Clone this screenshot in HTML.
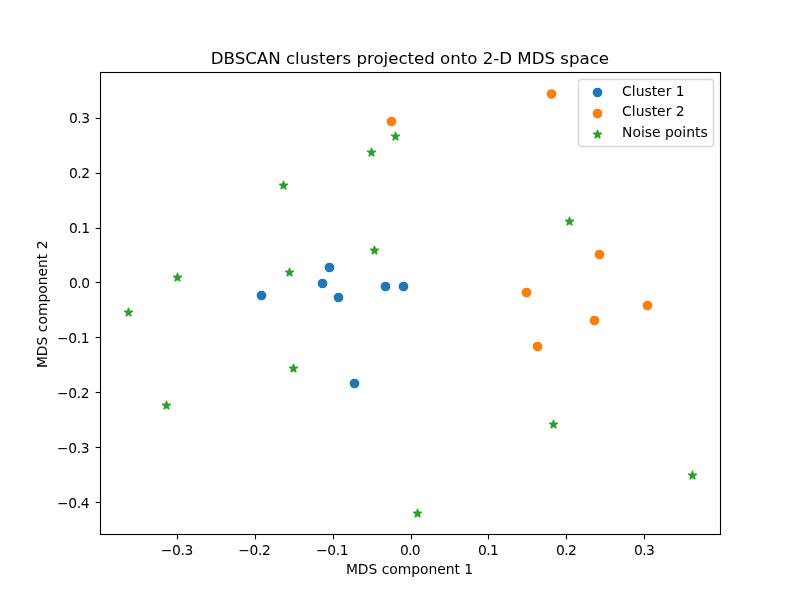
<!DOCTYPE html>
<html lang="en"><head><meta charset="utf-8"><title>DBSCAN clusters projected onto 2-D MDS space</title>
<style>html,body{margin:0;padding:0;background:#fff;overflow:hidden}body{width:800px;height:600px}</style></head>
<body>
<svg width="800" height="600" viewBox="0 0 800 600" style="display:block">
<rect x="0" y="0" width="800" height="600" fill="#ffffff"/>
<g fill="#1f77b4" stroke="#1f77b4" stroke-width="1.389">
<circle cx="261.50" cy="295.50" r="4.167"/>
<circle cx="329.50" cy="267.50" r="4.167"/>
<circle cx="322.50" cy="283.50" r="4.167"/>
<circle cx="338.50" cy="297.50" r="4.167"/>
<circle cx="385.50" cy="286.50" r="4.167"/>
<circle cx="403.50" cy="286.50" r="4.167"/>
<circle cx="354.50" cy="383.50" r="4.167"/>
</g>
<g fill="#ff7f0e" stroke="#ff7f0e" stroke-width="1.389">
<circle cx="391.50" cy="121.50" r="4.167"/>
<circle cx="551.50" cy="94.00" r="4.167"/>
<circle cx="599.50" cy="254.50" r="4.167"/>
<circle cx="526.50" cy="292.50" r="4.167"/>
<circle cx="647.50" cy="305.50" r="4.167"/>
<circle cx="594.50" cy="320.50" r="4.167"/>
<circle cx="537.50" cy="346.50" r="4.167"/>
</g>
<g fill="#2ca02c" stroke="#2ca02c" stroke-width="1.389" stroke-linejoin="round">
<path transform="translate(395.50 136.50)" d="M0.000 -4.167 L-0.935 -1.288 L-3.963 -1.288 L-1.514 0.492 L-2.449 3.371 L0.000 1.592 L2.449 3.371 L1.514 0.492 L3.963 -1.288 L0.935 -1.288Z"/>
<path transform="translate(371.50 152.50)" d="M0.000 -4.167 L-0.935 -1.288 L-3.963 -1.288 L-1.514 0.492 L-2.449 3.371 L0.000 1.592 L2.449 3.371 L1.514 0.492 L3.963 -1.288 L0.935 -1.288Z"/>
<path transform="translate(283.50 185.50)" d="M0.000 -4.167 L-0.935 -1.288 L-3.963 -1.288 L-1.514 0.492 L-2.449 3.371 L0.000 1.592 L2.449 3.371 L1.514 0.492 L3.963 -1.288 L0.935 -1.288Z"/>
<path transform="translate(374.50 250.50)" d="M0.000 -4.167 L-0.935 -1.288 L-3.963 -1.288 L-1.514 0.492 L-2.449 3.371 L0.000 1.592 L2.449 3.371 L1.514 0.492 L3.963 -1.288 L0.935 -1.288Z"/>
<path transform="translate(289.50 272.50)" d="M0.000 -4.167 L-0.935 -1.288 L-3.963 -1.288 L-1.514 0.492 L-2.449 3.371 L0.000 1.592 L2.449 3.371 L1.514 0.492 L3.963 -1.288 L0.935 -1.288Z"/>
<path transform="translate(177.50 277.50)" d="M0.000 -4.167 L-0.935 -1.288 L-3.963 -1.288 L-1.514 0.492 L-2.449 3.371 L0.000 1.592 L2.449 3.371 L1.514 0.492 L3.963 -1.288 L0.935 -1.288Z"/>
<path transform="translate(128.50 312.50)" d="M0.000 -4.167 L-0.935 -1.288 L-3.963 -1.288 L-1.514 0.492 L-2.449 3.371 L0.000 1.592 L2.449 3.371 L1.514 0.492 L3.963 -1.288 L0.935 -1.288Z"/>
<path transform="translate(293.50 368.50)" d="M0.000 -4.167 L-0.935 -1.288 L-3.963 -1.288 L-1.514 0.492 L-2.449 3.371 L0.000 1.592 L2.449 3.371 L1.514 0.492 L3.963 -1.288 L0.935 -1.288Z"/>
<path transform="translate(166.50 405.50)" d="M0.000 -4.167 L-0.935 -1.288 L-3.963 -1.288 L-1.514 0.492 L-2.449 3.371 L0.000 1.592 L2.449 3.371 L1.514 0.492 L3.963 -1.288 L0.935 -1.288Z"/>
<path transform="translate(417.50 513.50)" d="M0.000 -4.167 L-0.935 -1.288 L-3.963 -1.288 L-1.514 0.492 L-2.449 3.371 L0.000 1.592 L2.449 3.371 L1.514 0.492 L3.963 -1.288 L0.935 -1.288Z"/>
<path transform="translate(569.50 221.50)" d="M0.000 -4.167 L-0.935 -1.288 L-3.963 -1.288 L-1.514 0.492 L-2.449 3.371 L0.000 1.592 L2.449 3.371 L1.514 0.492 L3.963 -1.288 L0.935 -1.288Z"/>
<path transform="translate(553.50 424.50)" d="M0.000 -4.167 L-0.935 -1.288 L-3.963 -1.288 L-1.514 0.492 L-2.449 3.371 L0.000 1.592 L2.449 3.371 L1.514 0.492 L3.963 -1.288 L0.935 -1.288Z"/>
<path transform="translate(692.50 475.50)" d="M0.000 -4.167 L-0.935 -1.288 L-3.963 -1.288 L-1.514 0.492 L-2.449 3.371 L0.000 1.592 L2.449 3.371 L1.514 0.492 L3.963 -1.288 L0.935 -1.288Z"/>
</g>
<g stroke="#000" stroke-width="1.11" fill="none">
<path d="M177.5 534.5V539.36"/>
<path d="M255.5 534.5V539.36"/>
<path d="M333.5 534.5V539.36"/>
<path d="M411.5 534.5V539.36"/>
<path d="M488.5 534.5V539.36"/>
<path d="M566.5 534.5V539.36"/>
<path d="M644.5 534.5V539.36"/>
<path d="M100.5 502.5H95.64"/>
<path d="M100.5 447.5H95.64"/>
<path d="M100.5 392.5H95.64"/>
<path d="M100.5 337.5H95.64"/>
<path d="M100.5 282.5H95.64"/>
<path d="M100.5 228.5H95.64"/>
<path d="M100.5 173.5H95.64"/>
<path d="M100.5 118.5H95.64"/>
<rect x="100.5" y="72.5" width="620" height="462" stroke-linejoin="miter" stroke-linecap="square"/>
</g>
<g style="font-family:'DejaVu Sans','Liberation Sans',sans-serif;font-size:13.889px" fill="#000">
<text x="177.1" y="554.8" text-anchor="middle" textLength="32.6">−0.3</text>
<text x="254.5" y="554.8" text-anchor="middle" textLength="32.6">−0.2</text>
<text x="332.3" y="554.8" text-anchor="middle" textLength="32.6">−0.1</text>
<text x="410.3" y="554.8" text-anchor="middle" textLength="20.8">0.0</text>
<text x="488.5" y="554.8" text-anchor="middle" textLength="20.8">0.1</text>
<text x="566.4" y="554.8" text-anchor="middle" textLength="20.8">0.2</text>
<text x="644.5" y="554.8" text-anchor="middle" textLength="20.8">0.3</text>
<text x="89.6" y="507.8" text-anchor="end" textLength="32.6">−0.4</text>
<text x="89.6" y="452.8" text-anchor="end" textLength="32.6">−0.3</text>
<text x="89.6" y="397.8" text-anchor="end" textLength="32.6">−0.2</text>
<text x="89.6" y="342.8" text-anchor="end" textLength="32.6">−0.1</text>
<text x="90.1" y="287.8" text-anchor="end" textLength="21.2">0.0</text>
<text x="90.1" y="232.8" text-anchor="end" textLength="21.2">0.1</text>
<text x="90.1" y="177.8" text-anchor="end" textLength="21.2">0.2</text>
<text x="90.1" y="122.8" text-anchor="end" textLength="21.2">0.3</text>
<text x="345.9" y="573.8" textLength="127.1" lengthAdjust="spacing">MDS component 1</text>
<text transform="translate(46.6 304.3) rotate(-90)" text-anchor="middle">MDS component 2</text>
</g>
<text x="210.8" y="63.8" textLength="398.3" lengthAdjust="spacing" style="font-family:'DejaVu Sans','Liberation Sans',sans-serif;font-size:16.667px" fill="#000">DBSCAN clusters projected onto 2-D MDS space</text>
<path d="M581.28 146.50H710.72Q713.50 146.50 713.50 143.72V82.28Q713.50 79.50 710.72 79.50H581.28Q578.50 79.50 578.50 82.28V143.72Q578.50 146.50 581.28 146.50Z" fill="#ffffff" fill-opacity="0.8" stroke="#cccccc" stroke-opacity="0.8" stroke-width="1.389"/>
<g fill="#1f77b4" stroke="#1f77b4" stroke-width="1.389">
<circle cx="597.50" cy="92.50" r="4.167"/>
</g>
<g fill="#ff7f0e" stroke="#ff7f0e" stroke-width="1.389">
<circle cx="597.50" cy="113.50" r="4.167"/>
</g>
<g fill="#2ca02c" stroke="#2ca02c" stroke-width="1.389" stroke-linejoin="round">
<path transform="translate(597.50 134.50)" d="M0.000 -4.167 L-0.935 -1.288 L-3.963 -1.288 L-1.514 0.492 L-2.449 3.371 L0.000 1.592 L2.449 3.371 L1.514 0.492 L3.963 -1.288 L0.935 -1.288Z"/>
</g>
<g style="font-family:'DejaVu Sans','Liberation Sans',sans-serif;font-size:13.889px" fill="#000">
<text x="622.1" y="95.9">Cluster 1</text>
<text x="622.1" y="115.9">Cluster 2</text>
<text x="622.1" y="136.9">Noise points</text>
</g>
</svg>
</body></html>
